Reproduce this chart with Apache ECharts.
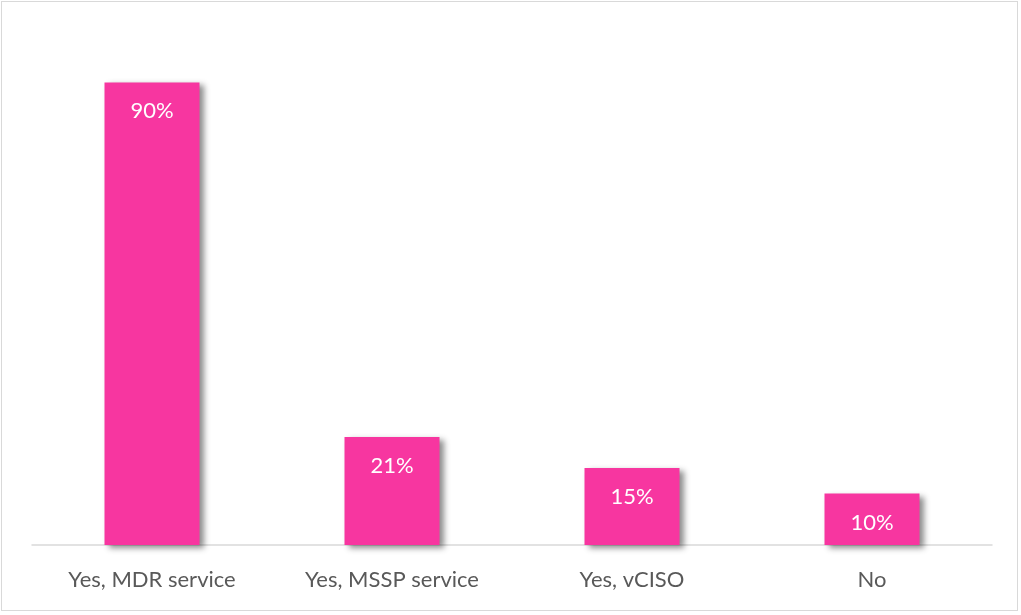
<!DOCTYPE html>
<html>
<head>
<meta charset="utf-8">
<style>
  html, body { margin: 0; padding: 0; background: #fff; }
  #frame { position: absolute; left: 1px; top: 1px; width: 1017px; height: 610px; border: 1px solid #d9d9d9; box-sizing: border-box; }
  #chart { position: absolute; left: 0; top: 0; width: 1021px; height: 615px; }
</style>
<script src="https://cdn.jsdelivr.net/npm/echarts@6/dist/echarts.min.js"></script>
</head>
<body>
<div id="frame"></div>
<div id="chart"></div>
<script>
// Survey answers and their shares (percent)
const categories = ['Yes, MDR service', 'Yes, MSSP service', 'Yes, vCISO', 'No'];
const shares = [90, 21, 15, 10];

const chart = echarts.init(document.getElementById('chart'), null, { renderer: 'canvas' });
chart.setOption({
  animation: false,
  grid: { left: 32, right: 29, top: 31, bottom: 70, containLabel: false },
  xAxis: {
    type: 'category',
    data: categories,
    axisLine: { lineStyle: { color: '#d9d9d9', width: 1.5 } },
    axisTick: { show: false },
    axisLabel: {
      color: '#595959',
      fontSize: 22,
      fontFamily: 'Lato, sans-serif',
      margin: 24
    }
  },
  yAxis: {
    type: 'value',
    min: 0,
    max: 100,
    show: false,
    splitLine: { show: false }
  },
  series: [{
    type: 'bar',
    data: shares,
    barWidth: 95,
    itemStyle: {
      color: '#F736A0',
      shadowColor: 'rgba(0,0,0,0.45)',
      shadowBlur: 6,
      shadowOffsetX: 4,
      shadowOffsetY: 3
    },
    label: {
      show: true,
      position: 'insideTop',
      distance: 18,
      formatter: '{c}%',
      color: '#ffffff',
      fontSize: 22,
      fontFamily: 'Lato, sans-serif'
    }
  }]
});
</script>
</body>
</html>
